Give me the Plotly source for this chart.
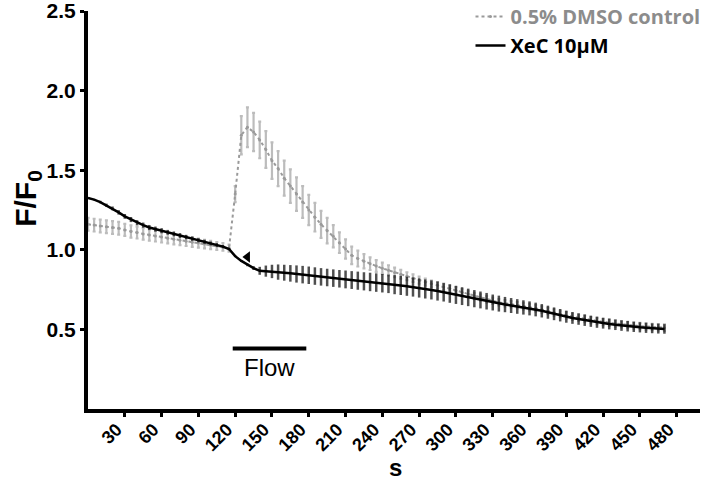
import plotly.graph_objects as go

# time points (s), sampled every 5 s
time_s = list(range(0, 475, 5))

# XeC 10uM: mean F/F0 and SEM
xec_mean = [
    1.325, 1.315, 1.30, 1.28, 1.26, 1.235, 1.21, 1.19, 1.17, 1.155,
    1.14, 1.13, 1.12, 1.11, 1.10, 1.09, 1.08, 1.07, 1.06, 1.05,
    1.04, 1.03, 1.02, 1.005, 0.96, 0.93, 0.905, 0.885, 0.868, 0.866,
    0.864, 0.86, 0.856, 0.852, 0.848, 0.844, 0.84, 0.835, 0.83, 0.826,
    0.822, 0.818, 0.814, 0.81, 0.806, 0.802, 0.798, 0.794, 0.79, 0.786,
    0.781, 0.776, 0.771, 0.766, 0.76, 0.754, 0.748, 0.741, 0.733, 0.725,
    0.717, 0.709, 0.701, 0.693, 0.685, 0.677, 0.669, 0.662, 0.656, 0.65,
    0.644, 0.638, 0.632, 0.625, 0.617, 0.608, 0.598, 0.589, 0.58, 0.572,
    0.565, 0.558, 0.551, 0.545, 0.539, 0.534, 0.529, 0.524, 0.52, 0.516,
    0.513, 0.51, 0.507, 0.505, 0.503,
]
xec_err = [
    0.005, 0.005, 0.008, 0.01, 0.012, 0.014, 0.015, 0.016, 0.016, 0.016,
    0.016, 0.016, 0.016, 0.015, 0.015, 0.015, 0.014, 0.014, 0.013, 0.013,
    0.012, 0.012, 0.01, 0.008, 0.006, 0.006, 0.008, 0.012, 0.025, 0.035,
    0.042, 0.048, 0.05, 0.052, 0.054, 0.055, 0.055, 0.055, 0.055, 0.055,
    0.055, 0.055, 0.056, 0.056, 0.057, 0.057, 0.058, 0.058, 0.058, 0.058,
    0.06, 0.06, 0.06, 0.06, 0.06, 0.06, 0.06, 0.06, 0.058, 0.058,
    0.057, 0.056, 0.055, 0.054, 0.053, 0.052, 0.05, 0.05, 0.048, 0.047,
    0.046, 0.045, 0.044, 0.043, 0.042, 0.041, 0.04, 0.039, 0.038, 0.037,
    0.036, 0.036, 0.035, 0.035, 0.034, 0.034, 0.033, 0.033, 0.033, 0.032,
    0.032, 0.032, 0.031, 0.031, 0.03,
]

# 0.5% DMSO control: mean F/F0 and SEM
dmso_mean = [
    1.16, 1.155, 1.15, 1.145, 1.14, 1.135, 1.125, 1.115, 1.108, 1.10,
    1.093, 1.087, 1.08, 1.073, 1.066, 1.06, 1.054, 1.048, 1.042, 1.036,
    1.03, 1.024, 1.018, 1.01, 1.35, 1.72, 1.77, 1.74, 1.69, 1.63,
    1.56, 1.51, 1.45, 1.40, 1.35, 1.30, 1.25, 1.205, 1.16, 1.12,
    1.085, 1.045, 1.005, 0.965, 0.945, 0.928, 0.913, 0.898, 0.884, 0.871,
    0.858, 0.846, 0.834, 0.822, 0.81, 0.798, 0.787, 0.777, 0.767, 0.757,
    0.745, 0.733, 0.722, 0.71, 0.70, 0.69, 0.68, 0.67, 0.664, 0.658,
    0.652, 0.646, 0.64, 0.633, 0.625, 0.616, 0.606, 0.597, 0.588, 0.58,
    0.573, 0.566, 0.559, 0.553, 0.547, 0.542, 0.537, 0.532, 0.528, 0.524,
    0.521, 0.518, 0.515, 0.513, 0.511,
]
dmso_err = [
    0.04, 0.04, 0.04, 0.04, 0.04, 0.04, 0.038, 0.038, 0.037, 0.036,
    0.035, 0.035, 0.034, 0.033, 0.032, 0.031, 0.03, 0.029, 0.028, 0.027,
    0.026, 0.025, 0.024, 0.022, 0.05, 0.12, 0.125, 0.12, 0.115, 0.115,
    0.115, 0.11, 0.11, 0.105, 0.105, 0.1, 0.095, 0.09, 0.085, 0.08,
    0.07, 0.065, 0.06, 0.055, 0.05, 0.045, 0.04, 0.037, 0.035, 0.032,
    0.03, 0.028, 0.025, 0.024, 0.022, 0.021, 0.02, 0.02, 0.02, 0.02,
    0.02, 0.02, 0.02, 0.02, 0.02, 0.02, 0.02, 0.02, 0.02, 0.02,
    0.02, 0.02, 0.02, 0.02, 0.02, 0.02, 0.02, 0.02, 0.02, 0.02,
    0.02, 0.02, 0.02, 0.02, 0.02, 0.02, 0.02, 0.02, 0.02, 0.02,
    0.02, 0.02, 0.02, 0.02, 0.02,
]

x_ticks = list(range(30, 510, 30))
y_ticks = [0.5, 1.0, 1.5, 2.0, 2.5]

flow_start, flow_end, flow_level = 118, 178, 0.38
arrow_x, arrow_y = 130, 0.955

AXIS_FONT = 'Liberation Sans, Arial'

fig = go.Figure()

fig.add_trace(go.Scatter(
    x=time_s, y=dmso_mean,
    name='<span style="color:#8c8c8c">0.5% DMSO control</span>',
    mode='lines+markers',
    line=dict(color='#9a9a9a', width=2, dash='dot'),
    marker=dict(color='#9a9a9a', size=3),
    error_y=dict(type='data', array=dmso_err, color='#bcbcbc', thickness=2.2, width=1.5),
))

fig.add_trace(go.Scatter(
    x=time_s, y=xec_mean,
    name='XeC 10μM',
    mode='lines',
    line=dict(color='black', width=2.5),
    error_y=dict(type='data', array=xec_err, color='rgba(20,20,20,0.75)', thickness=2.5, width=0),
))

# arrowhead marking the drop
fig.add_trace(go.Scatter(
    x=[arrow_x], y=[arrow_y], mode='markers', showlegend=False,
    marker=dict(symbol='triangle-left', size=10, color='black'),
))

# flow bar + label
fig.add_shape(type='line', x0=flow_start, x1=flow_end, y0=flow_level, y1=flow_level,
              line=dict(color='black', width=4))
fig.add_annotation(x=(flow_start + flow_end) / 2, y=flow_level, yshift=-19,
                   text='Flow', showarrow=False,
                   font=dict(family=AXIS_FONT, size=24, color='black'))

# axis titles placed by hand
fig.add_annotation(x=-0.1, y=0.53, xref='paper', yref='paper', textangle=-90,
                   xanchor='center', yanchor='middle',
                   text='F/F<sub>0</sub>', showarrow=False,
                   font=dict(family=AXIS_FONT, size=30, color='black', weight='bold'))
fig.add_annotation(x=0.502, y=-0.148, xref='paper', yref='paper',
                   xanchor='center', yanchor='middle',
                   text='s', showarrow=False,
                   font=dict(family=AXIS_FONT, size=24, color='black', weight='bold'))

fig.update_layout(
    width=710, height=486,
    margin=dict(l=88, r=10, t=11, b=77, autoexpand=False),
    paper_bgcolor='white',
    plot_bgcolor='white',
    showlegend=True,
    legend=dict(
        x=0.625, y=1.035, xanchor='left', yanchor='top',
        font=dict(family='Open Sans', size=20, color='black', weight='bold'),
        bgcolor='rgba(0,0,0,0)',
        tracegroupgap=0,
        itemwidth=30,
    ),
    xaxis=dict(
        range=[0, 499],
        automargin=False,
        tickvals=x_ticks,
        ticktext=[str(t) for t in x_ticks],
        tickangle=-45,
        ticks='outside', ticklen=4, tickwidth=3, tickcolor='black',
        showline=True, linecolor='black', linewidth=4,
        showgrid=False, zeroline=False,
        ticklabeloverflow='allow',
        ticklabelshift=-8,
        ticklabelstandoff=-5,
        tickfont=dict(family=AXIS_FONT, size=18, color='black', weight='bold'),
    ),
    yaxis=dict(
        range=[0, 2.5],
        automargin=False,
        tickvals=y_ticks,
        tickformat='.1f',
        ticks='outside', ticklen=4, tickwidth=3, tickcolor='black',
        showline=True, linecolor='black', linewidth=4,
        showgrid=False, zeroline=False,
        ticklabeloverflow='allow',
        tickfont=dict(family=AXIS_FONT, size=21, color='black', weight='bold'),
    ),
)

# drop the default 8px page margin so the figure sits at the window's corner
fig.write_html("out.html", config={'displayModeBar': False},
               post_script="document.body.style.margin='0px';")
